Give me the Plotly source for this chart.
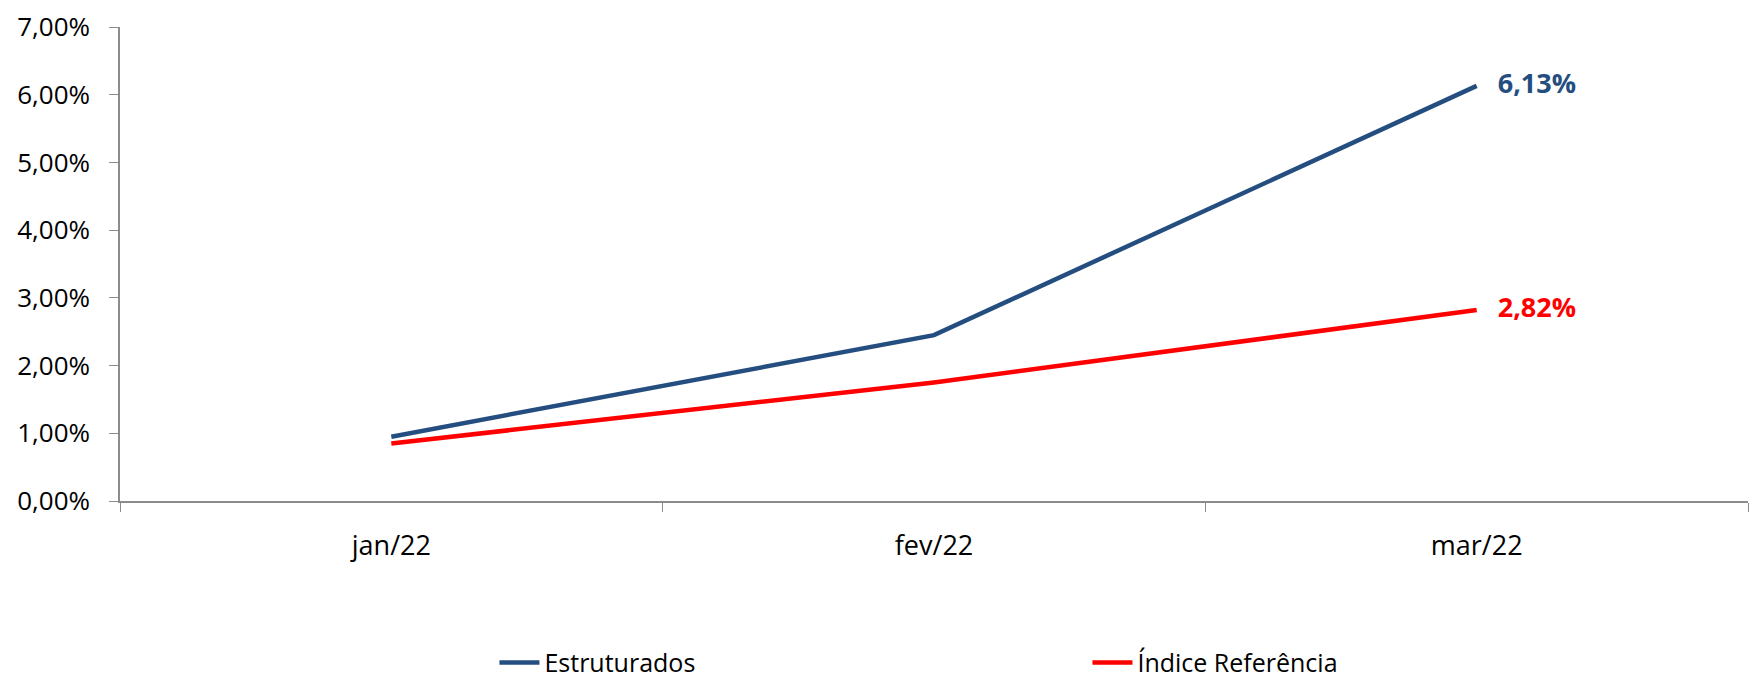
import plotly.graph_objects as go

categories = ["jan/22", "fev/22", "mar/22"]
estruturados = [0.95, 2.45, 6.13]
indice = [0.85, 1.75, 2.82]
est_labels = ["", "", "   6,13%"]
ind_labels = ["", "", "   2,82%"]
y_ticks = [0, 1, 2, 3, 4, 5, 6, 7]
y_tick_labels = ["0,00%", "1,00%", "2,00%", "3,00%", "4,00%", "5,00%", "6,00%", "7,00%"]

BLUE = "#254E80"
RED = "#FF0000"
FONT = "Open Sans"

fig = go.Figure()
fig.add_trace(go.Scatter(
    x=categories, y=estruturados, name="Estruturados", mode="lines+text",
    line=dict(color=BLUE, width=4.5), text=est_labels, textposition="middle right",
    textfont=dict(color=BLUE, size=27, family=FONT, weight="bold"), cliponaxis=False))
fig.add_trace(go.Scatter(
    x=categories, y=indice, name="Índice Referência", mode="lines+text",
    line=dict(color=RED, width=4.5), text=ind_labels, textposition="middle right",
    textfont=dict(color=RED, size=27, family=FONT, weight="bold"), cliponaxis=False))

# page body adds an 8px offset; figure sized to the visible window
fig.update_layout(
    width=1749, height=672,
    margin=dict(l=112, r=9, t=19, b=179, autoexpand=False),
    plot_bgcolor="white", paper_bgcolor="white",
    font=dict(family=FONT, size=27, color="#000000"),
    showlegend=True,
    legend=dict(orientation="h", x=0.230, xanchor="left", y=-0.341, yanchor="middle",
                entrywidth=538, entrywidthmode="pixels", font=dict(size=25),
                itemwidth=40),
)
fig.update_xaxes(
    range=[-0.5, 2.5], automargin=False,
    showline=True, linecolor="#8C8C8C", linewidth=1.5,
    ticks="outside", tickson="boundaries", ticklen=9, tickcolor="#8C8C8C",
    showgrid=False, tickfont=dict(size=27), ticklabelstandoff=20,
)
fig.update_yaxes(
    range=[0, 7], tickvals=y_ticks, ticktext=y_tick_labels, automargin=False,
    showline=True, linecolor="#8C8C8C", linewidth=1.5,
    ticks="outside", ticklen=9, tickcolor="#8C8C8C", ticklabeloverflow="allow",
    showgrid=False, zeroline=False, tickfont=dict(size=26), ticklabelstandoff=14,
)
fig.write_html("out.html")
